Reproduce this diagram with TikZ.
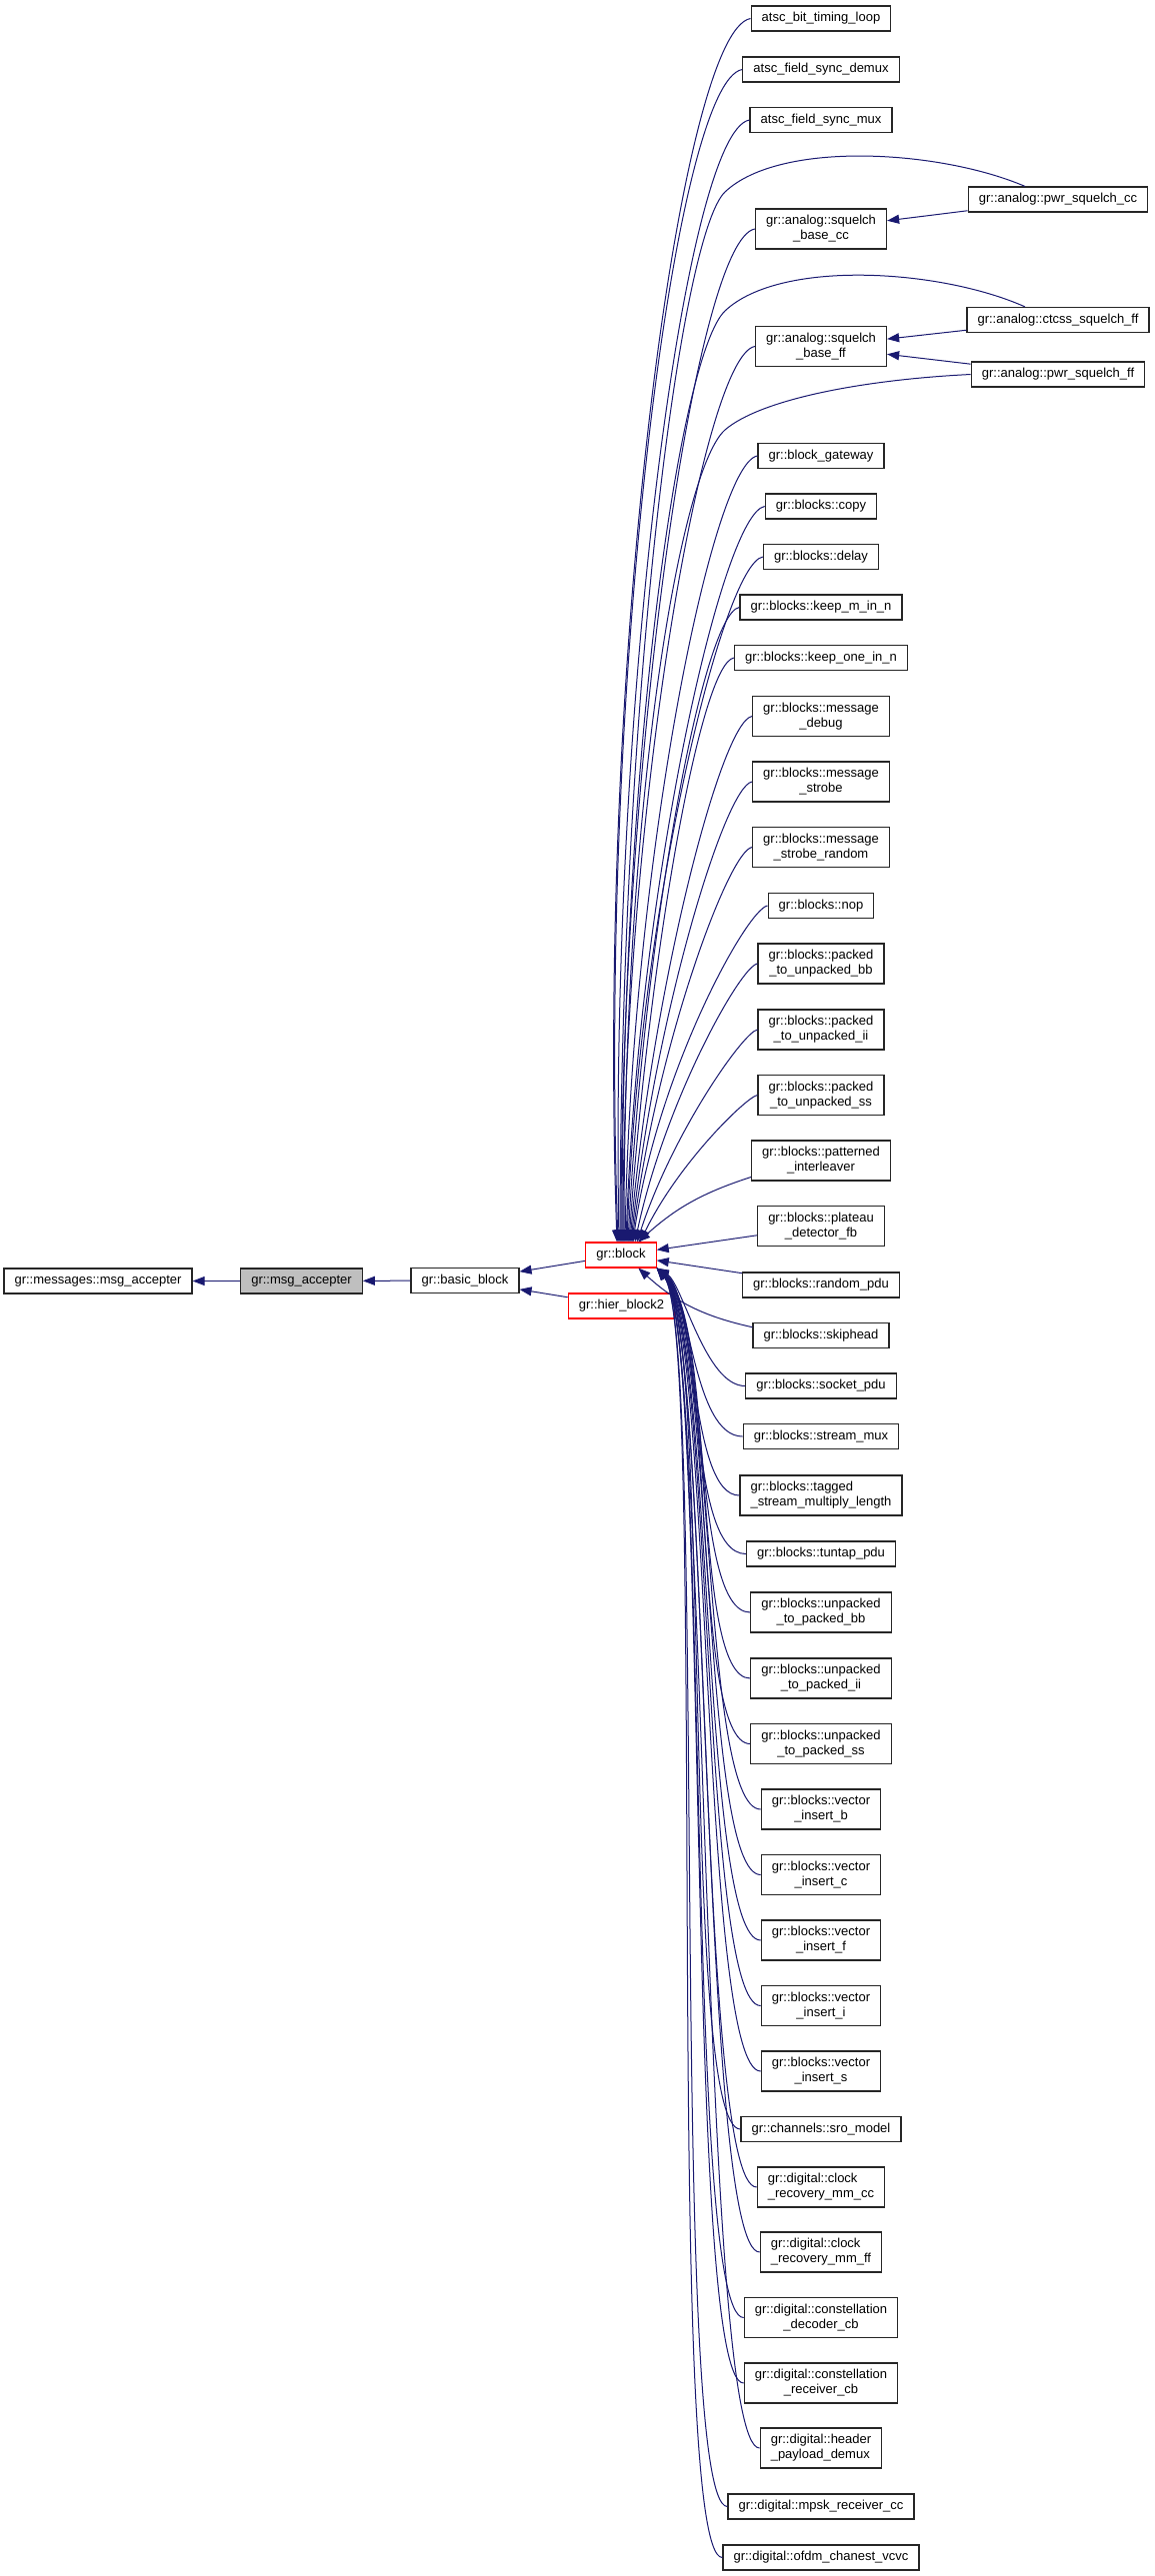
\documentclass[tikz,border=0pt]{standalone}
\usepackage{fontspec}
\setmainfont{Liberation Sans}
\usetikzlibrary{arrows.meta}

\definecolor{edgeblue}{HTML}{191970}
\definecolor{curgray}{HTML}{BFBFBF}
\definecolor{truncred}{HTML}{FF0000}

\tikzset{
  cls/.style={draw=black!85, line width=0.6pt, fill=white, font=\fontsize{6.5pt}{7.5pt}\selectfont,
    inner xsep=5.3pt, inner ysep=0pt, minimum height=12.5pt, align=center},
  cls2/.style={cls, minimum height=20pt},
  cls2l/.style={cls2, align=left},
  trunc/.style={cls, draw=truncred},
  link/.style={draw=edgeblue, line width=0.5pt, -{Triangle[length=6pt,width=4.5pt]}},
  up/.style={link, out=190, in=90, out looseness=.15, in looseness=1.2},
  dn/.style={link, out=180, in=-45, out distance=30pt, in distance=40pt}
}

\begin{document}
\begin{tikzpicture}[x=0.5pt,y=0.5pt]

% Page
\fill[white] (0,0) rectangle (1155,-2577);

% Inheritance chain
\node[cls] (msgs) at (98,-1281.5) {gr::messages::msg\_accepter};
\node[cls, fill=curgray] (msgacc) at (301.5,-1281.5) {gr::msg\_accepter};
\node[cls] (basic) at (465,-1281) {gr::basic\_block};
\node[trunc] (block) at (621,-1255.5) {gr::block};
\node[trunc] (hier) at (621.5,-1306.5) {gr::hier\_block2};

% Derived classes of gr::block (x = 821)
\node[cls] (atscbit) at (821,-18.5) {atsc\_bit\_timing\_loop};
\node[cls] (atscdemux) at (821,-69.5) {atsc\_field\_sync\_demux};
\node[cls] (atscmux) at (821,-120) {atsc\_field\_sync\_mux};
\node[cls2] (basecc) at (821,-229) {gr::analog::squelch\\\_base\_cc};
\node[cls2] (baseff) at (821,-346.5) {gr::analog::squelch\\\_base\_ff};
\node[cls] (gateway) at (821,-456) {gr::block\_gateway};
\node[cls] (copy) at (821,-506.5) {gr::blocks::copy};
\node[cls] (delay) at (821,-557) {gr::blocks::delay};
\node[cls] (keepm) at (821,-607.5) {gr::blocks::keep\_m\_in\_n};
\node[cls] (keepone) at (821,-658) {gr::blocks::keep\_one\_in\_n};
\node[cls2] (msgdebug) at (821,-716.5) {gr::blocks::message\\\_debug};
\node[cls2] (strobe) at (821,-782) {gr::blocks::message\\\_strobe};
\node[cls2] (stroberand) at (821,-847.5) {gr::blocks::message\\\_strobe\_random};
\node[cls] (nop) at (821,-906) {gr::blocks::nop};
\node[cls2] (pbb) at (821,-964) {gr::blocks::packed\\\_to\_unpacked\_bb};
\node[cls2] (pii) at (821,-1030) {gr::blocks::packed\\\_to\_unpacked\_ii};
\node[cls2] (pss) at (821,-1095.5) {gr::blocks::packed\\\_to\_unpacked\_ss};
\node[cls2] (patt) at (821,-1161) {gr::blocks::patterned\\\_interleaver};
\node[cls2] (plateau) at (821,-1226.5) {gr::blocks::plateau\\\_detector\_fb};
\node[cls] (randpdu) at (821,-1285.5) {gr::blocks::random\_pdu};
\node[cls] (skiphead) at (821,-1336) {gr::blocks::skiphead};
\node[cls] (sockpdu) at (821,-1386.5) {gr::blocks::socket\_pdu};
\node[cls] (streammux) at (821,-1437) {gr::blocks::stream\_mux};
\node[cls2l] (tagged) at (821,-1496) {gr::blocks::tagged\\\_stream\_multiply\_length};
\node[cls] (tuntap) at (821,-1554.5) {gr::blocks::tuntap\_pdu};
\node[cls2] (ubb) at (821,-1613) {gr::blocks::unpacked\\\_to\_packed\_bb};
\node[cls2] (uii) at (821,-1679) {gr::blocks::unpacked\\\_to\_packed\_ii};
\node[cls2] (uss) at (821,-1744.5) {gr::blocks::unpacked\\\_to\_packed\_ss};
\node[cls2] (vinsb) at (821,-1810) {gr::blocks::vector\\\_insert\_b};
\node[cls2] (vinsc) at (821,-1875.5) {gr::blocks::vector\\\_insert\_c};
\node[cls2] (vinsf) at (821,-1941) {gr::blocks::vector\\\_insert\_f};
\node[cls2] (vinsi) at (821,-2006.5) {gr::blocks::vector\\\_insert\_i};
\node[cls2] (vinss) at (821,-2072) {gr::blocks::vector\\\_insert\_s};
\node[cls] (sro) at (821,-2130) {gr::channels::sro\_model};
\node[cls2l] (clkcc) at (821,-2188) {gr::digital::clock\\\_recovery\_mm\_cc};
\node[cls2l] (clkff) at (821,-2253) {gr::digital::clock\\\_recovery\_mm\_ff};
\node[cls2] (cdec) at (821,-2318.5) {gr::digital::constellation\\\_decoder\_cb};
\node[cls2] (crec) at (821,-2384) {gr::digital::constellation\\\_receiver\_cb};
\node[cls2l] (hdrdemux) at (821,-2449) {gr::digital::header\\\_payload\_demux};
\node[cls] (mpsk) at (821,-2507.5) {gr::digital::mpsk\_receiver\_cc};
\node[cls] (ofdm) at (821,-2558.5) {gr::digital::ofdm\_chanest\_vcvc};

% Squelch subclasses (x = 1058)
\node[cls] (pwrcc) at (1058,-199.5) {gr::analog::pwr\_squelch\_cc};
\node[cls] (ctcss) at (1058,-320) {gr::analog::ctcss\_squelch\_ff};
\node[cls] (pwrff) at (1058,-374.5) {gr::analog::pwr\_squelch\_ff};

% Chain arrows
\draw[link] (msgacc) -- (msgs);
\draw[link] (basic) -- (msgacc);
\draw[link] (block) -- (basic);
\draw[link] (hier) -- (basic);

% Squelch arrows
\draw[link] (pwrcc) -- (basecc);
\draw[link] (ctcss) -- (baseff);
\draw[link] (pwrff) -- (baseff);
\draw[link] ([xshift=-16.5pt]pwrcc.north) .. controls (940,-150) and (780,-140) .. (725,-192)
  .. controls (680,-235) and (621,-700) .. ([xshift=-0.5pt]block.north);
\draw[link] ([xshift=-16.5pt]ctcss.north) .. controls (940,-269) and (780,-259) .. (725,-311)
  .. controls (680,-354) and (622,-750) .. ([xshift=0.5pt]block.north);
\draw[link] (pwrff.west) .. controls (860,-380) and (760,-400) .. (725,-430)
  .. controls (680,-470) and (624,-800) .. ([xshift=1.5pt]block.north);

% Arrows into the top of gr::block
\draw[up] (atscbit.west) to[in=92] ([xshift=-2pt]block.north);
\draw[up] (atscdemux.west) to[in=92] ([xshift=-1.5pt]block.north);
\draw[up] (atscmux.west) to[in=91] ([xshift=-1pt]block.north);
\draw[up] (basecc.west) to[in=90] (block.north);
\draw[up] (baseff.west) to[in=90] ([xshift=1pt]block.north);
\draw[up] (gateway.west) to[in=89] ([xshift=2pt]block.north);
\draw[up] (copy.west) to[in=88] ([xshift=2.5pt]block.north);
\draw[up] (delay.west) to[in=88] ([xshift=3pt]block.north);
\draw[up] (keepm.west) to[in=87] ([xshift=3.5pt]block.north);
\draw[up] (keepone.west) to[in=86] ([xshift=4pt]block.north);
\draw[up] (msgdebug.west) to[in=85] ([xshift=4.5pt]block.north);
\draw[up] (strobe.west) to[in=84] ([xshift=5pt]block.north);
\draw[up] (stroberand.west) to[in=83] ([xshift=5.5pt]block.north);
\draw[up] (nop.west) to[in=82] ([xshift=6pt]block.north);
\draw[up] (pbb.west) to[in=78] ([xshift=7pt]block.north);
\draw[up] (pii.west) to[in=72] ([xshift=8pt]block.north);
\draw[up] (pss.west) to[in=64] ([xshift=9.5pt]block.north);

% Arrows into the side of gr::block
\draw[link] (patt) to[bend right=12] (block);
\draw[link] (plateau) -- (block);
\draw[link] (randpdu) -- (block);
\draw[link] (skiphead) to[bend left=15] (block);

% Arrows into the bottom corner of gr::block
\draw[dn] (sockpdu.west) to[in=-30, out distance=20pt, in distance=15pt] (block.south east);
\draw[dn] (streammux.west) to[in=-34, out distance=25pt, in distance=20pt] (block.south east);
\draw[dn] (tagged.west) to[in=-37, out distance=25pt, in distance=25pt] (block.south east);
\draw[dn] (tuntap.west) to[in=-39, in distance=30pt] (block.south east);
\draw[dn] (ubb.west) to[in=-40, in distance=35pt] (block.south east);
\draw[dn] (uii.west) to[in=-41] (block.south east);
\draw[dn] (uss.west) to[in=-42] (block.south east);
\draw[dn] (vinsb.west) to[in=-43] (block.south east);
\draw[dn] (vinsc.west) to[in=-44] (block.south east);
\draw[dn] (vinsf.west) to[in=-45] (block.south east);
\draw[dn] (vinsi.west) to[in=-45] (block.south east);
\draw[dn] (vinss.west) to[in=-46] (block.south east);
\draw[dn] (sro.west) to[in=-46] (block.south east);
\draw[dn] (clkcc.west) to[in=-47] (block.south east);
\draw[dn] (clkff.west) to[in=-47] (block.south east);
\draw[dn] (cdec.west) to[in=-48] (block.south east);
\draw[dn] (crec.west) to[in=-48] (block.south east);
\draw[dn] (hdrdemux.west) to[in=-49] (block.south east);
\draw[dn] (mpsk.west) to[in=-50] (block.south east);
\draw[dn] (ofdm.west) to[in=-50] (block.south east);

\end{tikzpicture}
\end{document}
